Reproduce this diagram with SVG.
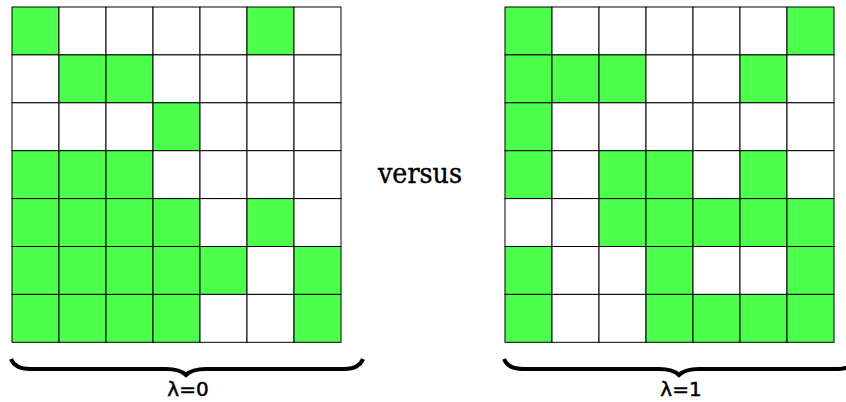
<svg xmlns="http://www.w3.org/2000/svg" width="846" height="402" viewBox="0 0 846 402">
<style>
.c{stroke:#000;stroke-width:1;fill:#fff}
.g{fill:#4dff4d}
.brace{fill:none;stroke:#000;stroke-width:4;stroke-linecap:butt}
.vs{font-family:"DejaVu Serif",serif;font-size:27px;fill:#000;stroke:#000;stroke-width:0.4}
.lab{font-family:"DejaVu Sans",sans-serif;font-size:20px;fill:#000;stroke:#000;stroke-width:0.5}
</style>
<defs>
<rect id="w" class="c" width="47" height="47.9"/>
<rect id="k" class="c g" width="47" height="47.9"/>
</defs>
<g id="grid-left">
<use href="#k" x="12" y="7"/><use href="#w" x="59" y="7"/><use href="#w" x="106" y="7"/><use href="#w" x="153" y="7"/><use href="#w" x="200" y="7"/><use href="#k" x="247" y="7"/><use href="#w" x="294" y="7"/>
<use href="#w" x="12" y="54.9"/><use href="#k" x="59" y="54.9"/><use href="#k" x="106" y="54.9"/><use href="#w" x="153" y="54.9"/><use href="#w" x="200" y="54.9"/><use href="#w" x="247" y="54.9"/><use href="#w" x="294" y="54.9"/>
<use href="#w" x="12" y="102.8"/><use href="#w" x="59" y="102.8"/><use href="#w" x="106" y="102.8"/><use href="#k" x="153" y="102.8"/><use href="#w" x="200" y="102.8"/><use href="#w" x="247" y="102.8"/><use href="#w" x="294" y="102.8"/>
<use href="#k" x="12" y="150.7"/><use href="#k" x="59" y="150.7"/><use href="#k" x="106" y="150.7"/><use href="#w" x="153" y="150.7"/><use href="#w" x="200" y="150.7"/><use href="#w" x="247" y="150.7"/><use href="#w" x="294" y="150.7"/>
<use href="#k" x="12" y="198.6"/><use href="#k" x="59" y="198.6"/><use href="#k" x="106" y="198.6"/><use href="#k" x="153" y="198.6"/><use href="#w" x="200" y="198.6"/><use href="#k" x="247" y="198.6"/><use href="#w" x="294" y="198.6"/>
<use href="#k" x="12" y="246.5"/><use href="#k" x="59" y="246.5"/><use href="#k" x="106" y="246.5"/><use href="#k" x="153" y="246.5"/><use href="#k" x="200" y="246.5"/><use href="#w" x="247" y="246.5"/><use href="#k" x="294" y="246.5"/>
<use href="#k" x="12" y="294.4"/><use href="#k" x="59" y="294.4"/><use href="#k" x="106" y="294.4"/><use href="#k" x="153" y="294.4"/><use href="#w" x="200" y="294.4"/><use href="#w" x="247" y="294.4"/><use href="#k" x="294" y="294.4"/>
</g>
<g id="grid-right">
<use href="#k" x="505" y="7"/><use href="#w" x="552" y="7"/><use href="#w" x="599" y="7"/><use href="#w" x="646" y="7"/><use href="#w" x="693" y="7"/><use href="#w" x="740" y="7"/><use href="#k" x="787" y="7"/>
<use href="#k" x="505" y="54.9"/><use href="#k" x="552" y="54.9"/><use href="#k" x="599" y="54.9"/><use href="#w" x="646" y="54.9"/><use href="#w" x="693" y="54.9"/><use href="#k" x="740" y="54.9"/><use href="#w" x="787" y="54.9"/>
<use href="#k" x="505" y="102.8"/><use href="#w" x="552" y="102.8"/><use href="#w" x="599" y="102.8"/><use href="#w" x="646" y="102.8"/><use href="#w" x="693" y="102.8"/><use href="#w" x="740" y="102.8"/><use href="#w" x="787" y="102.8"/>
<use href="#k" x="505" y="150.7"/><use href="#w" x="552" y="150.7"/><use href="#k" x="599" y="150.7"/><use href="#k" x="646" y="150.7"/><use href="#w" x="693" y="150.7"/><use href="#k" x="740" y="150.7"/><use href="#w" x="787" y="150.7"/>
<use href="#w" x="505" y="198.6"/><use href="#w" x="552" y="198.6"/><use href="#k" x="599" y="198.6"/><use href="#k" x="646" y="198.6"/><use href="#k" x="693" y="198.6"/><use href="#k" x="740" y="198.6"/><use href="#k" x="787" y="198.6"/>
<use href="#k" x="505" y="246.5"/><use href="#w" x="552" y="246.5"/><use href="#w" x="599" y="246.5"/><use href="#k" x="646" y="246.5"/><use href="#w" x="693" y="246.5"/><use href="#w" x="740" y="246.5"/><use href="#k" x="787" y="246.5"/>
<use href="#k" x="505" y="294.4"/><use href="#w" x="552" y="294.4"/><use href="#w" x="599" y="294.4"/><use href="#k" x="646" y="294.4"/><use href="#k" x="693" y="294.4"/><use href="#k" x="740" y="294.4"/><use href="#k" x="787" y="294.4"/>
</g>
<g id="versus"><text class="vs" x="420" y="183" text-anchor="middle" textLength="84" lengthAdjust="spacingAndGlyphs">versus</text></g>
<g id="brace-left">
<path class="brace" d="M11,359 Q15,369 30,369 L166,369 Q180,369 186,375 Q192,369 206,369 L344,369 Q359,369 363,359"/>
<text class="lab" x="188" y="396" text-anchor="middle">λ=0</text>
</g>
<g id="brace-right">
<path class="brace" d="M504,359 Q508,369 523,369 L659,369 Q673,369 679,375 Q685,369 699,369 L837,369 Q852,369 856,359"/>
<text class="lab" x="681" y="396" text-anchor="middle">λ=1</text>
</g>
</svg>
